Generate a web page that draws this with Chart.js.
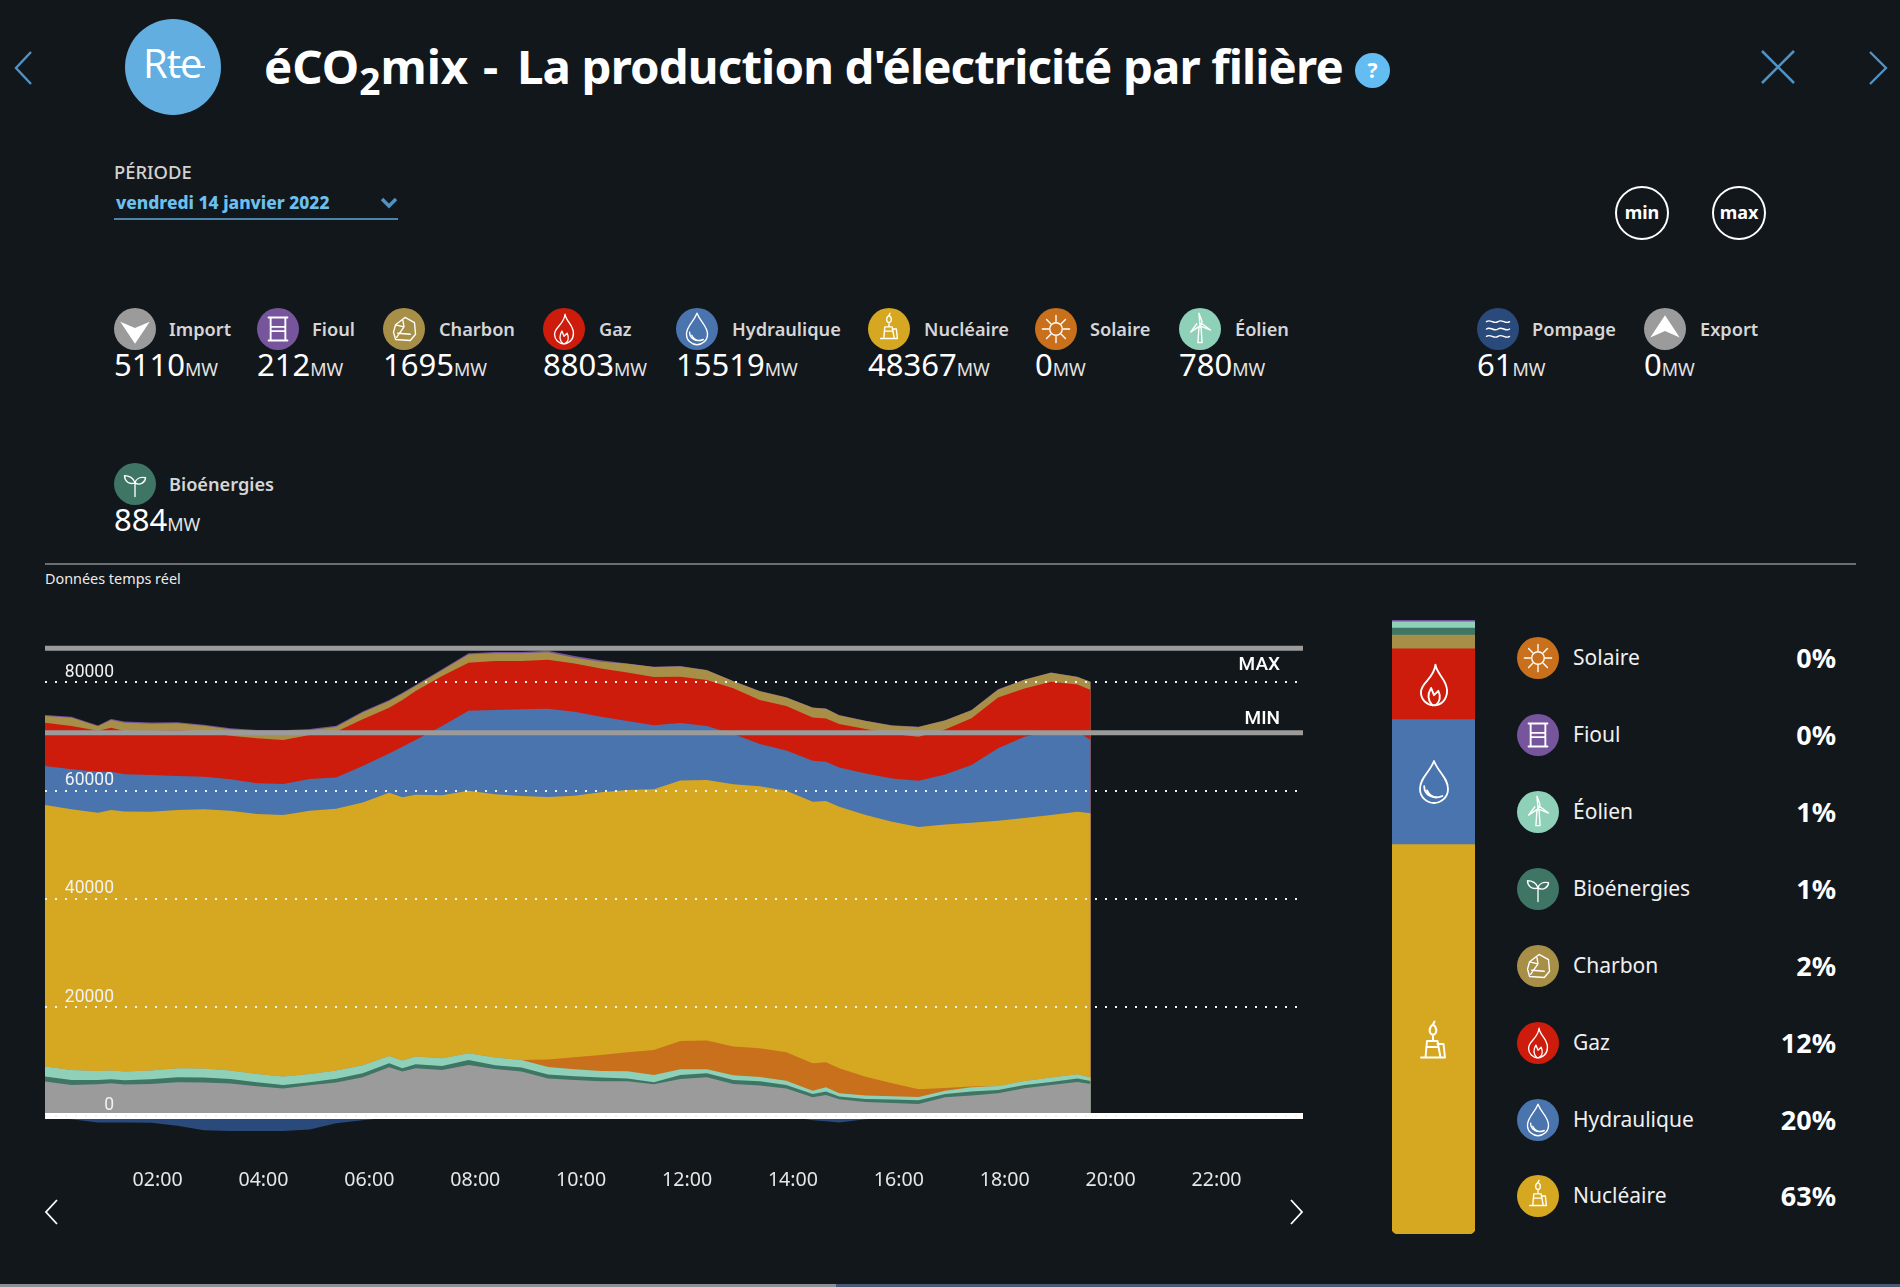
<!DOCTYPE html>
<html lang="fr">
<head>
<meta charset="utf-8">
<title>éCO2mix</title>
<script src="https://cdn.jsdelivr.net/npm/chart.js@4"></script>
<style>
html, body { margin: 0; padding: 0; background: #12171c; }
#page { position: relative; width: 1900px; height: 1287px; overflow: hidden; background: #12171c; color: #fff; font-family: "Noto Sans", sans-serif; }
#page canvas { position: absolute; }
.t { position: absolute; white-space: nowrap; line-height: 1; }
.ico { position: absolute; border-radius: 50%; }
.ico svg, .free svg { display: block; width: 100%; height: 100%; }
.free { position: absolute; }
#strip1 { position: absolute; left: 0; top: 1284px; width: 836px; height: 3px; background: #8d9196; }
#strip2 { position: absolute; left: 836px; top: 1284px; width: 1064px; height: 3px; background: #4a5a72; }
</style>
</head>
<body>
<div id="page">
  <canvas id="areaChart" width="1400" height="620" style="left:0;top:600px"></canvas>
  <canvas id="shareChart" width="83" height="614" style="left:1392px;top:620px"></canvas>
  <div id="strip1"></div><div id="strip2"></div>
</div>
<script>
// time of each reading, in hours
const hours = [0,0.5,1,1.25,1.5,2,2.5,3,3.5,4,4.5,5,5.5,6,6.5,6.75,7,7.5,8,8.5,9,9.5,10,10.5,11,11.5,12,12.5,13,13.5,14,14.5,14.75,15,15.5,16,16.5,17,17.5,18,18.5,19,19.5,19.75];

// production in MW
const importMW = [6330,5720,5840,6020,5780,5900,6210,6150,5960,5470,5040,5660,6150,7130,8970,8180,8790,8480,9400,8670,8180,6880,6640,6390,6390,5840,6820,7130,5900,5590,5040,3440,3870,3070,2580,2400,2210,3440,3750,4180,5100,5720,6270,5900];
const bioMW = [920,920,800,740,800,860,920,920,860,740,680,550,680,740,740,610,740,740,920,680,740,740,680,680,490,370,740,740,740,800,680,610,610,490,550,610,680,610,740,610,610,550,610,550];
const eolienMW = [1840,1840,1660,1600,1600,1600,1660,1660,1540,1540,1540,1540,1540,1480,1350,1410,1410,1410,1230,1410,1410,1410,1290,1230,1350,1350,1040,740,860,800,740,610,800,610,610,610,610,610,800,740,740,800,800,610];
const solaireMW = [0,0,0,0,0,0,0,0,0,0,0,0,0,0,0,0,0,0,0,0,0,1350,2210,2950,3500,4610,5220,5290,5290,5290,5290,5040,4610,4610,3500,2400,1410,490,120,0,0,0,0,0];
const nucleaireMW = [48250,48070,47640,48070,47950,47760,47640,47820,47950,47950,48250,48560,48310,48440,48560,48560,48310,48500,48440,48560,48680,48440,48250,48440,48380,48070,48070,48070,48380,48310,48250,48250,48190,48250,48250,48250,48380,48620,48680,48930,48500,48440,48440,48750];
const hydroMW = [7190,7380,7560,7070,6880,6760,6270,6020,5780,5660,5720,5840,5720,6760,7250,9340,10080,12790,14750,15550,15980,16290,15490,13950,12720,11800,10570,9960,9280,7810,7380,7560,7250,7250,7680,7990,8540,9220,10630,13340,15000,15370,14750,13520];
const gazMW = [7990,7990,7560,8110,7990,8180,8480,8300,8050,8300,8110,8110,8480,8610,8420,8610,9040,9220,8850,9040,8910,9040,8910,8910,8970,8910,8540,8480,8420,8110,8240,7990,7990,7990,8180,8180,8110,8300,8610,9400,8910,9220,8730,9220];
const charbonMW = [1230,1540,800,1420,1540,1300,1230,1110,1170,1360,1660,930,870,1230,1230,1150,930,1050,1540,1420,1420,1360,1050,1230,1600,1850,1910,1780,1290,1600,1540,1780,1780,1600,1480,1540,1780,1660,1480,1420,1600,1660,1350,1480];
const fioulMW = [180,190,170,180,200,210,220,190,180,170,160,180,220,230,200,200,170,180,210,240,260,280,300,290,70,60,60,50,60,50,60,70,60,60,50,60,60,50,60,70,60,50,60,70];
const pompageMW = [0,-610,-1200,-1220,-1230,-1280,-1840,-2650,-2770,-2800,-2770,-2500,-1350,-800,-300,0,0,0,0,0,0,0,0,0,0,0,0,0,0,0,0,-800,-1000,-1200,-600,-300,-200,-100,0,0,0,0,0,-60];

const maxMW = 86260;
const minMW = 70700;

const yTicks = [0,20000,40000,60000,80000];
const xTicks = [2,4,6,8,10,12,14,16,18,20,22];
const xLabels = ['02:00','04:00','06:00','08:00','10:00','12:00','14:00','16:00','18:00','20:00','22:00'];

// the figures of the header row
const topNames = ['Import','Fioul','Charbon','Gaz','Hydraulique','Nucléaire','Solaire','Éolien','Pompage','Export','Bioénergies'];
const topValues = [5110,212,1695,8803,15519,48367,0,780,61,0,884];

// the bar on the right, MW at the time of the cursor
const shareNames = ['Nucléaire','Hydraulique','Gaz','Charbon','Bioénergies','Éolien','Fioul'];
const shareValues = [48367,15519,8803,1695,884,780,212];

// the list on the right
const listNames = ['Solaire','Fioul','Éolien','Bioénergies','Charbon','Gaz','Hydraulique','Nucléaire'];
const listPercents = ['0%','0%','1%','1%','2%','12%','20%','63%'];

const colors = {
    'Import': '#9b9b9b', 'Fioul': '#76559d', 'Charbon': '#a88f48', 'Gaz': '#cd1c0b',
    'Hydraulique': '#4a74ae', 'Nucléaire': '#d6a721', 'Solaire': '#c8701b', 'Éolien': '#8fd0b8',
    'Pompage': '#2a4a7c', 'Export': '#9b9b9b', 'Bioénergies': '#3f7565'
};

const S = 'fill="none" stroke="#fff" stroke-width="1.3" stroke-linejoin="round" stroke-linecap="round"';
const flame = '<path ' + S + ' d="M21 6c1 7 8 10 8 18 0 6-4 10-9 10s-9-4-9-9c0-7 9-9 10-19z"/><path ' + S + ' d="M19 34c-3-3-4-7-1-12l2 5 3-3c2 4 1 8-2 10"/>';
const drop = '<path ' + S + ' d="M20 5c3 8 10 12 10 20 0 6-5 10-10 10s-10-4-10-10c0-8 7-12 10-20z"/><path ' + S + ' d="M13 23c0 6 6 10 13 7M15 26c2 4 6 6 11 4"/>';
const plant = '<path ' + S + ' d="M12 29h16M15 29l1-11h7l2 11M23 20h4l1 9M16 22h7M20 18v-3"/><path ' + S + ' d="M20 7c-3 2-3 6 0 7 3-1 3-5 0-7zM20 7l1-2"/>';
const sprout = '<path ' + S + ' d="M20 32V19M20 19c-1-5-6-7-10-7 0 5 4 9 10 7zM20 19c1-4 5-6 10-5 0 4-5 8-10 5"/>';
const icons = {
    'Import': '<path fill="#fff" d="M6 13l14 6 14-6-14 21z"/>',
    'Export': '<path fill="#fff" d="M20 7l14 21-14-6-14 6z"/>',
    'Fioul': '<path ' + S.replace('1.3','1.8') + ' d="M11 9h18M11 31h18M13 9v22M27 9v22M13 18h14M13 22h14"/>',
    'Charbon': '<path ' + S + ' d="M12 16l9-7 9 5 1 11-5 6-14-1-2-7zM12 16l8 2-7 10M20 18l-1-6M14 24l12 1"/>',
    'Gaz': flame,
    'Hydraulique': drop,
    'Nucléaire': plant,
    'Solaire': '<circle cx="20" cy="20" r="6" ' + S + '/><path ' + S + ' d="M20 7v6M20 27v6M7 20h6M27 20h6M11 11l4 4M25 25l4 4M29 11l-4 4M15 25l-4 4"/>',
    'Éolien': '<path ' + S + ' d="M18 33l1-15h2l1 15zM20 17l-1-12 3 8zM20 17l10 4-8-6zM20 17l-9 6 6-8"/>',
    'Pompage': '<path ' + S + ' d="M9 13c4-3 7 3 11 0s7 3 11 0M9 20c4-3 7 3 11 0s7 3 11 0M9 27c4-3 7 3 11 0s7 3 11 0"/>',
    'Bioénergies': sprout
};

const page = document.getElementById('page');

function addText(text, x, y, size, css) {
    const el = document.createElement('div');
    el.className = 't';
    el.innerHTML = text;
    el.style.cssText = 'left:' + x + 'px;top:' + (y - size / 2) + 'px;font-size:' + size + 'px;' + (css || '');
    page.appendChild(el);
    return el;
}

function addIcon(name, cx, cy) {
    const el = document.createElement('div');
    el.className = 'ico';
    el.style.cssText = 'left:' + (cx - 21) + 'px;top:' + (cy - 21) + 'px;width:42px;height:42px;background:' + colors[name];
    el.innerHTML = '<svg viewBox="0 0 40 40">' + icons[name] + '</svg>';
    page.appendChild(el);
}

function addFree(svg, x, y, w, h) {
    const el = document.createElement('div');
    el.className = 'free';
    el.style.cssText = 'left:' + x + 'px;top:' + y + 'px;width:' + w + 'px;height:' + h + 'px';
    el.innerHTML = '<svg viewBox="0 0 ' + w + ' ' + h + '">' + svg + '</svg>';
    page.appendChild(el);
}

// header
const BLUE = '#4f93c4';
addFree('<path d="M17 1L2 17l15 16" fill="none" stroke="' + BLUE + '" stroke-width="2.4"/>', 14, 51, 20, 34);
addFree('<path d="M2 2l32 32M34 2L2 34" fill="none" stroke="' + BLUE + '" stroke-width="2.6"/>', 1760, 49, 36, 36);
addFree('<path d="M2 1l16 16L2 33" fill="none" stroke="' + BLUE + '" stroke-width="2.4"/>', 1868, 51, 20, 34);

const logo = document.createElement('div');
logo.style.cssText = 'position:absolute;left:125px;top:19px;width:96px;height:96px;border-radius:50%;background:#62aee0';
page.appendChild(logo);
addText('Rte', 143, 63, 40, 'font-family:"Open Sans";font-weight:500;letter-spacing:-1px');
addFree('<path d="M0 1h36" stroke="#fff" stroke-width="2"/>', 169, 66, 36, 2);

addText('éCO<span style="font-size:37px;position:relative;top:11px">2</span>mix', 264, 66, 47.4, 'font-weight:700');
addText('-', 483, 66, 47.4, 'font-weight:700');
addText('La production d\'électricité par filière', 517, 66, 47.4, 'font-weight:700;letter-spacing:-0.87px');
addText('?', 1355, 70, 21, 'width:35px;height:35px;line-height:35px;margin-top:-7px;border-radius:50%;background:#63bdf2;text-align:center;font-weight:700');

addText('PÉRIODE', 114, 172, 18.4, 'color:#d2d2d2;font-weight:500');
addText('vendredi 14 janvier 2022', 116, 203, 17.4, 'color:#6cc0f0;font-weight:800');
addFree('<path d="M1 2l7 7 7-7" fill="none" stroke="#4f93c4" stroke-width="3.4"/>', 381, 197, 16, 12);
addFree('<path d="M0 1h284" stroke="#5fa8d8" stroke-width="1.6"/>', 114, 218, 284, 2);

// min / max buttons
[['min', 1642], ['max', 1739]].forEach(function (b) {
    addText(b[0], b[1] - 27, 211, 18, 'width:50px;height:50px;line-height:48px;margin-top:-16px;border:2.5px solid #fff;border-radius:50%;text-align:center;font-weight:700');
});

// header row of figures
const iconX = [135,278,404,564,697,889,1056,1200,1498,1665,135];
const labelX = [169,312,439,599,732,924,1090,1235,1532,1700,169];
const rowY = [329,329,329,329,329,329,329,329,329,329,484];
topNames.forEach(function (name, i) {
    addIcon(name, iconX[i], rowY[i]);
    addText(name, labelX[i], rowY[i], 18.2, 'color:#d6d6d6;font-weight:600');
    addText(topValues[i] + '<span style="font-size:18px;color:#e4e4e4">MW</span>', iconX[i] - 21, rowY[i] + 35, 31, 'font-weight:400');
});

addFree('<path d="M0 1h1811" stroke="#8a8d90" stroke-width="1.4"/>', 45, 563, 1811, 2);
addText('Données temps réel', 45, 579, 14.4, 'color:#ececec');

// list on the right
const listY = [658,735,812,889,966,1043,1120,1196];
listNames.forEach(function (name, i) {
    addIcon(name, 1538, listY[i]);
    addText(name, 1573, listY[i] - 1, 21, 'color:#f0f0f0');
    addText(listPercents[i], 1703, listY[i] - 1, 27, 'width:133px;text-align:right;font-weight:700');
});

// icons on the bar
addFree('<svg viewBox="0 0 40 40">' + flame + '</svg>', 1405, 656, 58, 58);
addFree('<svg viewBox="0 0 40 40">' + drop + '</svg>', 1406, 754, 56, 56);
addFree('<svg viewBox="0 0 40 40">' + plant + '</svg>', 1403, 1014, 60, 60);

// chevrons under the chart
addFree('<path d="M13 1L2 13l11 12" fill="none" stroke="#fff" stroke-width="1.8"/>', 44, 1199, 14, 26);
addFree('<path d="M1 1l11 12L1 25" fill="none" stroke="#fff" stroke-width="1.8"/>', 1290, 1199, 14, 26);

function series(values) {
    return values.map(function (v, i) { return { x: hours[i], y: v }; });
}

function area(name, values) {
    return { label: name, data: series(values), stack: 'prod', fill: 'origin', backgroundColor: colors[name], borderWidth: 0, pointRadius: 0, tension: 0 };
}

const X_MAX = 23.76;

function refLine(name, value, color, width) {
    return { label: name, data: [{ x: 0, y: value }, { x: X_MAX, y: value }], stack: name, fill: false, borderColor: color, borderWidth: width, pointRadius: 0 };
}

const axisLabels = {
    id: 'axisLabels',
    afterDraw(chart) {
        const ctx = chart.ctx;
        const y = chart.scales.y;
        ctx.save();
        ctx.fillStyle = '#f2f2f2';
        ctx.textAlign = 'right';
        ctx.textBaseline = 'middle';
        ctx.font = '17.5px Roboto';
        yTicks.forEach(function (t) {
            ctx.fillText(String(t), 114, y.getPixelForValue(t) - 10);
        });
        ctx.fillStyle = '#fff';
        ctx.font = '500 19px Roboto';
        ctx.fillText('MAX', 1280, y.getPixelForValue(maxMW) + 17);
        ctx.fillText('MIN', 1280, y.getPixelForValue(minMW) - 13);
        ctx.restore();
    }
};

new Chart(document.getElementById('areaChart'), {
    type: 'line',
    data: {
        datasets: [
            refLine('zero', 0, '#ffffff', 6),
            refLine('MIN', minMW, '#9b9b9b', 5),
            refLine('MAX', maxMW, '#9b9b9b', 5),
            area('Import', importMW),
            area('Bioénergies', bioMW),
            area('Éolien', eolienMW),
            area('Solaire', solaireMW),
            area('Nucléaire', nucleaireMW),
            area('Hydraulique', hydroMW),
            area('Gaz', gazMW),
            area('Charbon', charbonMW),
            area('Fioul', fioulMW),
            Object.assign(area('Pompage', pompageMW), { stack: 'pompage' })
        ]
    },
    options: {
        responsive: false,
        animation: false,
        devicePixelRatio: 1,
        layout: { padding: { left: 45, right: 97, top: 28, bottom: 0 } },
        plugins: { legend: { display: false }, tooltip: { enabled: false } },
        scales: {
            x: {
                type: 'linear',
                min: 0,
                max: X_MAX,
                grid: { display: false, drawTicks: false },
                border: { display: false },
                afterFit(scale) { scale.height = 77; },
                afterBuildTicks(scale) { scale.ticks = xTicks.map(function (v) { return { value: v }; }); },
                ticks: {
                    autoSkip: false,
                    maxRotation: 0,
                    labelOffset: 6.7,
                    padding: 26,
                    color: '#e6e6e6',
                    font: { family: '"Noto Sans"', size: 19.6 },
                    callback(value) { return xLabels[xTicks.indexOf(value)]; }
                }
            },
            y: {
                stacked: true,
                min: -5000,
                max: 90000,
                afterBuildTicks(scale) { scale.ticks = yTicks.map(function (v) { return { value: v }; }); },
                ticks: { display: false },
                grid: { color: '#f2f2f2', lineWidth: 2, drawTicks: false, z: 1 },
                border: { display: false, dash: [2, 8] }
            }
        }
    },
    plugins: [axisLabels]
});

new Chart(document.getElementById('shareChart'), {
    type: 'bar',
    data: {
        labels: ['mix'],
        datasets: shareNames.map(function (name, i) {
            return {
                label: name,
                data: [shareValues[i]],
                backgroundColor: colors[name],
                borderWidth: 0,
                borderSkipped: false,
                borderRadius: i === 0 ? { bottomLeft: 6, bottomRight: 6, topLeft: 0, topRight: 0 } : 0
            };
        })
    },
    options: {
        responsive: false,
        animation: false,
        devicePixelRatio: 1,
        plugins: { legend: { display: false }, tooltip: { enabled: false } },
        datasets: { bar: { barPercentage: 1, categoryPercentage: 1 } },
        scales: {
            x: { display: false, stacked: true },
            y: { display: false, stacked: true, min: 0, max: shareValues.reduce(function (a, b) { return a + b; }, 0) }
        }
    }
});
</script>
</body>
</html>
